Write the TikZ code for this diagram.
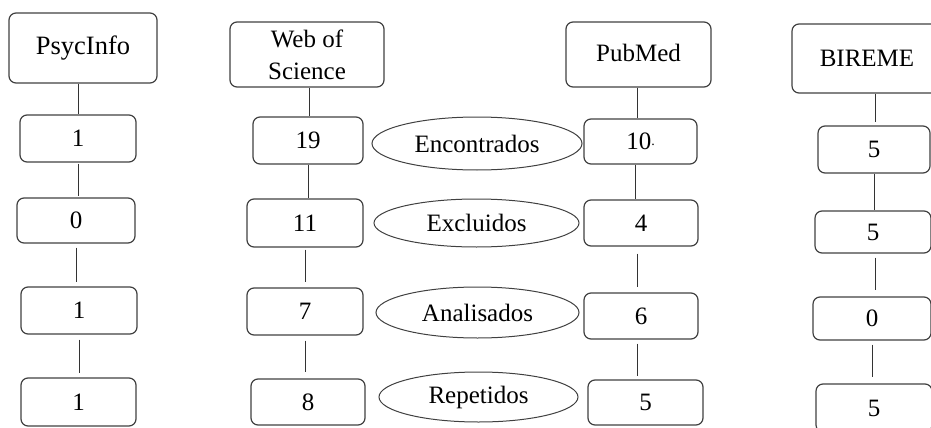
\documentclass[tikz,border=0pt]{standalone}
\usepackage{fontspec}
\setmainfont{Liberation Serif}
\usetikzlibrary{shapes.geometric}
\tikzset{
  bx/.style={draw=black!75, line width=1.2pt, rounded corners=7pt, inner sep=0pt,
    font=\fontsize{25}{32}\selectfont, align=center},
  el/.style={draw=black!75, line width=1pt, ellipse, inner sep=0pt,
    font=\fontsize{25}{32}\selectfont},
  cn/.style={draw=black!80, line width=1pt}
}
\newcommand{\bxat}[6]{\node[bx, minimum width=#4pt, minimum height=#5pt] (#1) at (#2,#3) {#6};}
\newcommand{\elat}[6]{\node[el, minimum width=#4pt, minimum height=#5pt] (#1) at (#2,#3) {#6};}
\begin{document}
\begin{tikzpicture}[x=1pt,y=-1pt]
\useasboundingbox (0,0) rectangle (931,428);
\clip (0,0) rectangle (931,428);
% PsycInfo column
\bxat{psy}{83}{48}{148}{70}{\fontsize{26.5}{32}\selectfont PsycInfo}
\bxat{p1}{78}{138.5}{116}{47}{1}
\bxat{p2}{76}{220.5}{118}{45}{0}
\bxat{p3}{79}{310.5}{116}{47}{1}
\bxat{p4}{78.5}{402}{115}{48}{1}
% Web of Science column
\bxat{wos}{307}{54.5}{154}{65}{Web of\\Science}
\bxat{w1}{308}{140.5}{110}{47}{19}
\bxat{w2}{305}{223}{116}{48}{11}
\bxat{w3}{305}{311.5}{116}{47}{7}
\bxat{w4}{308}{402}{114}{46}{8}
% Ellipses
\elat{e1}{477}{143.5}{210}{53}{Encontrados}
\elat{e2}{476.5}{223}{205}{48}{Excluidos}
\elat{e3}{477.5}{312.5}{203}{51}{Analisados}
\elat{e4}{478.5}{397}{199}{50}{Repetidos}
% PubMed column
\bxat{pub}{638.5}{54.5}{145}{65}{\raisebox{3pt}{PubMed}}
\bxat{m1}{640.5}{141.5}{113}{45}{10\raisebox{4pt}{\fontsize{14}{14}\selectfont .}}
\bxat{m2}{641}{223}{114}{46}{4}
\bxat{m3}{641}{316}{114}{46}{6}
\bxat{m4}{645.5}{402.5}{115}{45}{5}
% BIREME column
\bxat{bir}{867}{58.5}{150}{69}{BIREME}
\bxat{b1}{874}{149.5}{112}{47}{5}
\bxat{b2}{873}{232}{116}{42}{5}
\bxat{b3}{872}{318.5}{118}{43}{0}
\bxat{b4}{874}{408}{116}{48}{5}
% connectors
\draw[cn] ([xshift=-5pt]psy.south) -- ([xshift=-5pt]psy.south |- p1.north);
\draw[cn] ([yshift=-1pt]p1.south) -- ([yshift=1pt]p1.south |- p2.north);
\draw[cn] ([yshift=-4pt]p2.south) -- ([yshift=4pt]p2.south |- p3.north);
\draw[cn] ([yshift=-5pt]p3.south) -- ([yshift=4pt]p3.south |- p4.north);
\draw[cn] ([xshift=2pt]wos.south) -- ([xshift=2pt]wos.south |- w1.north);
\draw[cn] (w1.south) -- (w1.south |- w2.north);
\draw[cn] ([yshift=-2pt]w2.south) -- ([yshift=5pt]w2.south |- w3.north);
\draw[cn] ([yshift=-5pt]w3.south) -- ([yshift=6pt]w3.south |- w4.north);
\draw[cn] ([xshift=-1.5pt]pub.south) -- ([xshift=-1.5pt]pub.south |- m1.north);
\draw[cn] ([xshift=-5.5pt]m1.south) -- ([xshift=-5.5pt]m1.south |- m2.north);
\draw[cn] ([xshift=-4pt,yshift=-7pt]m2.south) -- ([xshift=-4pt,yshift=5pt]m2.south |- m3.north);
\draw[cn] ([xshift=-4pt,yshift=-4pt]m3.south) -- ([xshift=-4pt,yshift=3pt]m3.south |- m4.north);
\draw[cn] ([xshift=8pt]bir.south) -- ([xshift=8pt,yshift=3pt]bir.south |- b1.north);
\draw[cn] (b1.south) -- (b1.south |- b2.north);
\draw[cn] ([xshift=2pt,yshift=-4pt]b2.south) -- ([xshift=2pt,yshift=6pt]b2.south |- b3.north);
\draw[cn] ([yshift=-4pt]b3.south) -- ([yshift=6pt]b3.south |- b4.north);
\end{tikzpicture}
\end{document}
